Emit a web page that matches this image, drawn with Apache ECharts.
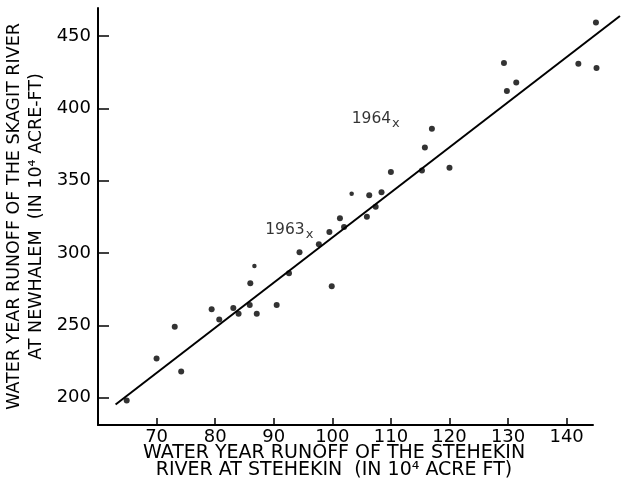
<!DOCTYPE html>
<html>
<head>
<meta charset="utf-8">
<title>Stehekin vs Skagit runoff</title>
<script src="https://cdn.jsdelivr.net/npm/echarts@6/dist/echarts.min.js"></script>
<style>
  html, body { margin: 0; padding: 0; background: #fff; }
  #chart { width: 623px; height: 488px; }
</style>
</head>
<body>
<div id="chart"></div>
<script>
// Water-year runoff, 10^4 acre-ft: Stehekin River (x) vs Skagit River at Newhalem (y)
const stehekin = [64.9, 70.0, 73.1, 74.2, 79.4, 80.7, 83.1, 84.0, 85.9, 86.0, 87.1, 90.5,
  92.6, 94.4, 97.7, 99.9, 99.5, 101.3, 102.0, 105.9, 106.3, 107.4, 108.4, 110.0,
  115.3, 115.8, 117.0, 120.0, 129.3, 129.8, 131.4, 142.0, 145.0, 145.1];
const skagit = [198, 227, 249, 218, 261, 254, 262, 258, 264, 279, 258, 264,
  286, 300.5, 306, 277, 314.5, 324, 318, 325, 340, 332, 342, 356,
  357, 373, 386, 359, 431.5, 412, 418, 431, 459.5, 428];

// Lighter-drawn observations
const stehekinFaint = [86.7, 103.3];
const skagitFaint = [291, 341];

// Fitted relation, end points
const fitStehekin = [63.0, 149.1];
const fitSkagit = [195.2, 464.0];

// Labelled years
const yearNames = ['1963', '1964'];
const yearStehekin = [96.0, 110.75];
const yearSkagit = [313.1, 389.9];

// Axis ticks
const xTicks = [70, 80, 90, 100, 110, 120, 130, 140];
const yTicks = [200, 250, 300, 350, 400, 450];

const pairs = (xs, ys) => xs.map((x, i) => [x, ys[i]]);

const FONT = 'DejaVu Sans';
const INK = '#000';

const chart = echarts.init(document.getElementById('chart'), null, { renderer: 'canvas' });

chart.setOption({
  animation: false,
  backgroundColor: '#fff',
  grid: { left: 98, right: 30, top: 8, bottom: 63, outerBoundsMode: 'none', containLabel: false },
  xAxis: {
    type: 'value',
    min: 60,
    max: 144.5,
    name: 'WATER YEAR RUNOFF OF THE STEHEKIN\nRIVER AT STEHEKIN  (IN 10\u2074 ACRE FT)',
    nameLocation: 'middle',
    nameMoveOverlap: false,
    nameGap: 20,
    nameTextStyle: {
      fontFamily: FONT, fontSize: 19, color: INK, lineHeight: 16.5, padding: [0, 23, 0, 0]
    },
    splitLine: { show: false },
    axisLine: { show: true, onZero: false, lineStyle: { color: INK, width: 2 } },
    axisTick: { show: true, inside: true, length: 7, customValues: xTicks,
      lineStyle: { color: INK, width: 1.5 } },
    axisLabel: { customValues: xTicks, margin: 3, fontFamily: FONT, fontSize: 18, color: INK }
  },
  yAxis: {
    type: 'value',
    min: 181,
    max: 469.5,
    name: 'WATER YEAR RUNOFF OF THE SKAGIT RIVER\nAT NEWHALEM  (IN 10\u2074 ACRE-FT)',
    nameLocation: 'middle',
    nameMoveOverlap: false,
    nameGap: 51,
    nameTextStyle: {
      fontFamily: FONT, fontSize: 17.5, color: INK, lineHeight: 22
    },
    splitLine: { show: false },
    axisLine: { show: true, onZero: false, lineStyle: { color: INK, width: 2 } },
    axisTick: { show: true, inside: true, length: 11, customValues: yTicks,
      lineStyle: { color: INK, width: 1.5 } },
    axisLabel: { customValues: yTicks, margin: 7, fontFamily: FONT, fontSize: 18, color: INK }
  },
  series: [
    {
      // Fitted straight line, drawn through the axis scales and allowed past the frame
      type: 'custom',
      coordinateSystem: 'cartesian2d',
      clip: false,
      data: [[fitStehekin[0], fitSkagit[0], fitStehekin[1], fitSkagit[1]]],
      encode: { x: [0, 2], y: [1, 3] },
      renderItem: (params, api) => {
        const a = api.coord([api.value(0), api.value(1)]);
        const b = api.coord([api.value(2), api.value(3)]);
        return {
          type: 'line',
          shape: { x1: a[0], y1: a[1], x2: b[0], y2: b[1] },
          style: { stroke: INK, lineWidth: 2 }
        };
      },
      silent: true,
      z: 3
    },
    {
      type: 'scatter',
      data: pairs(stehekin, skagit),
      symbol: 'circle',
      symbolSize: 6,
      clip: false,
      itemStyle: { color: INK },
      z: 4
    },
    {
      type: 'scatter',
      data: pairs(stehekinFaint, skagitFaint),
      symbol: 'circle',
      symbolSize: 4.5,
      clip: false,
      itemStyle: { color: INK },
      z: 4
    },
    {
      type: 'scatter',
      data: pairs(yearStehekin, yearSkagit).map((p, i) => ({ value: p, name: yearNames[i] })),
      symbol: 'circle',
      symbolSize: 1,
      clip: false,
      itemStyle: { color: 'rgba(0,0,0,0)' },
      label: {
        show: true,
        position: 'left',
        distance: 0,
        offset: [5, -2],
        formatter: p => '{n|' + p.name + '}{s|x}',
        rich: {
          n: { fontFamily: FONT, fontSize: 15.5, color: INK, padding: [0, 1, 5, 0] },
          s: { fontFamily: FONT, fontSize: 13, color: INK, padding: [6, 0, 0, 0] }
        }
      },
      emphasis: { disabled: true },
      z: 5
    }
  ]
});
</script>
</body>
</html>
